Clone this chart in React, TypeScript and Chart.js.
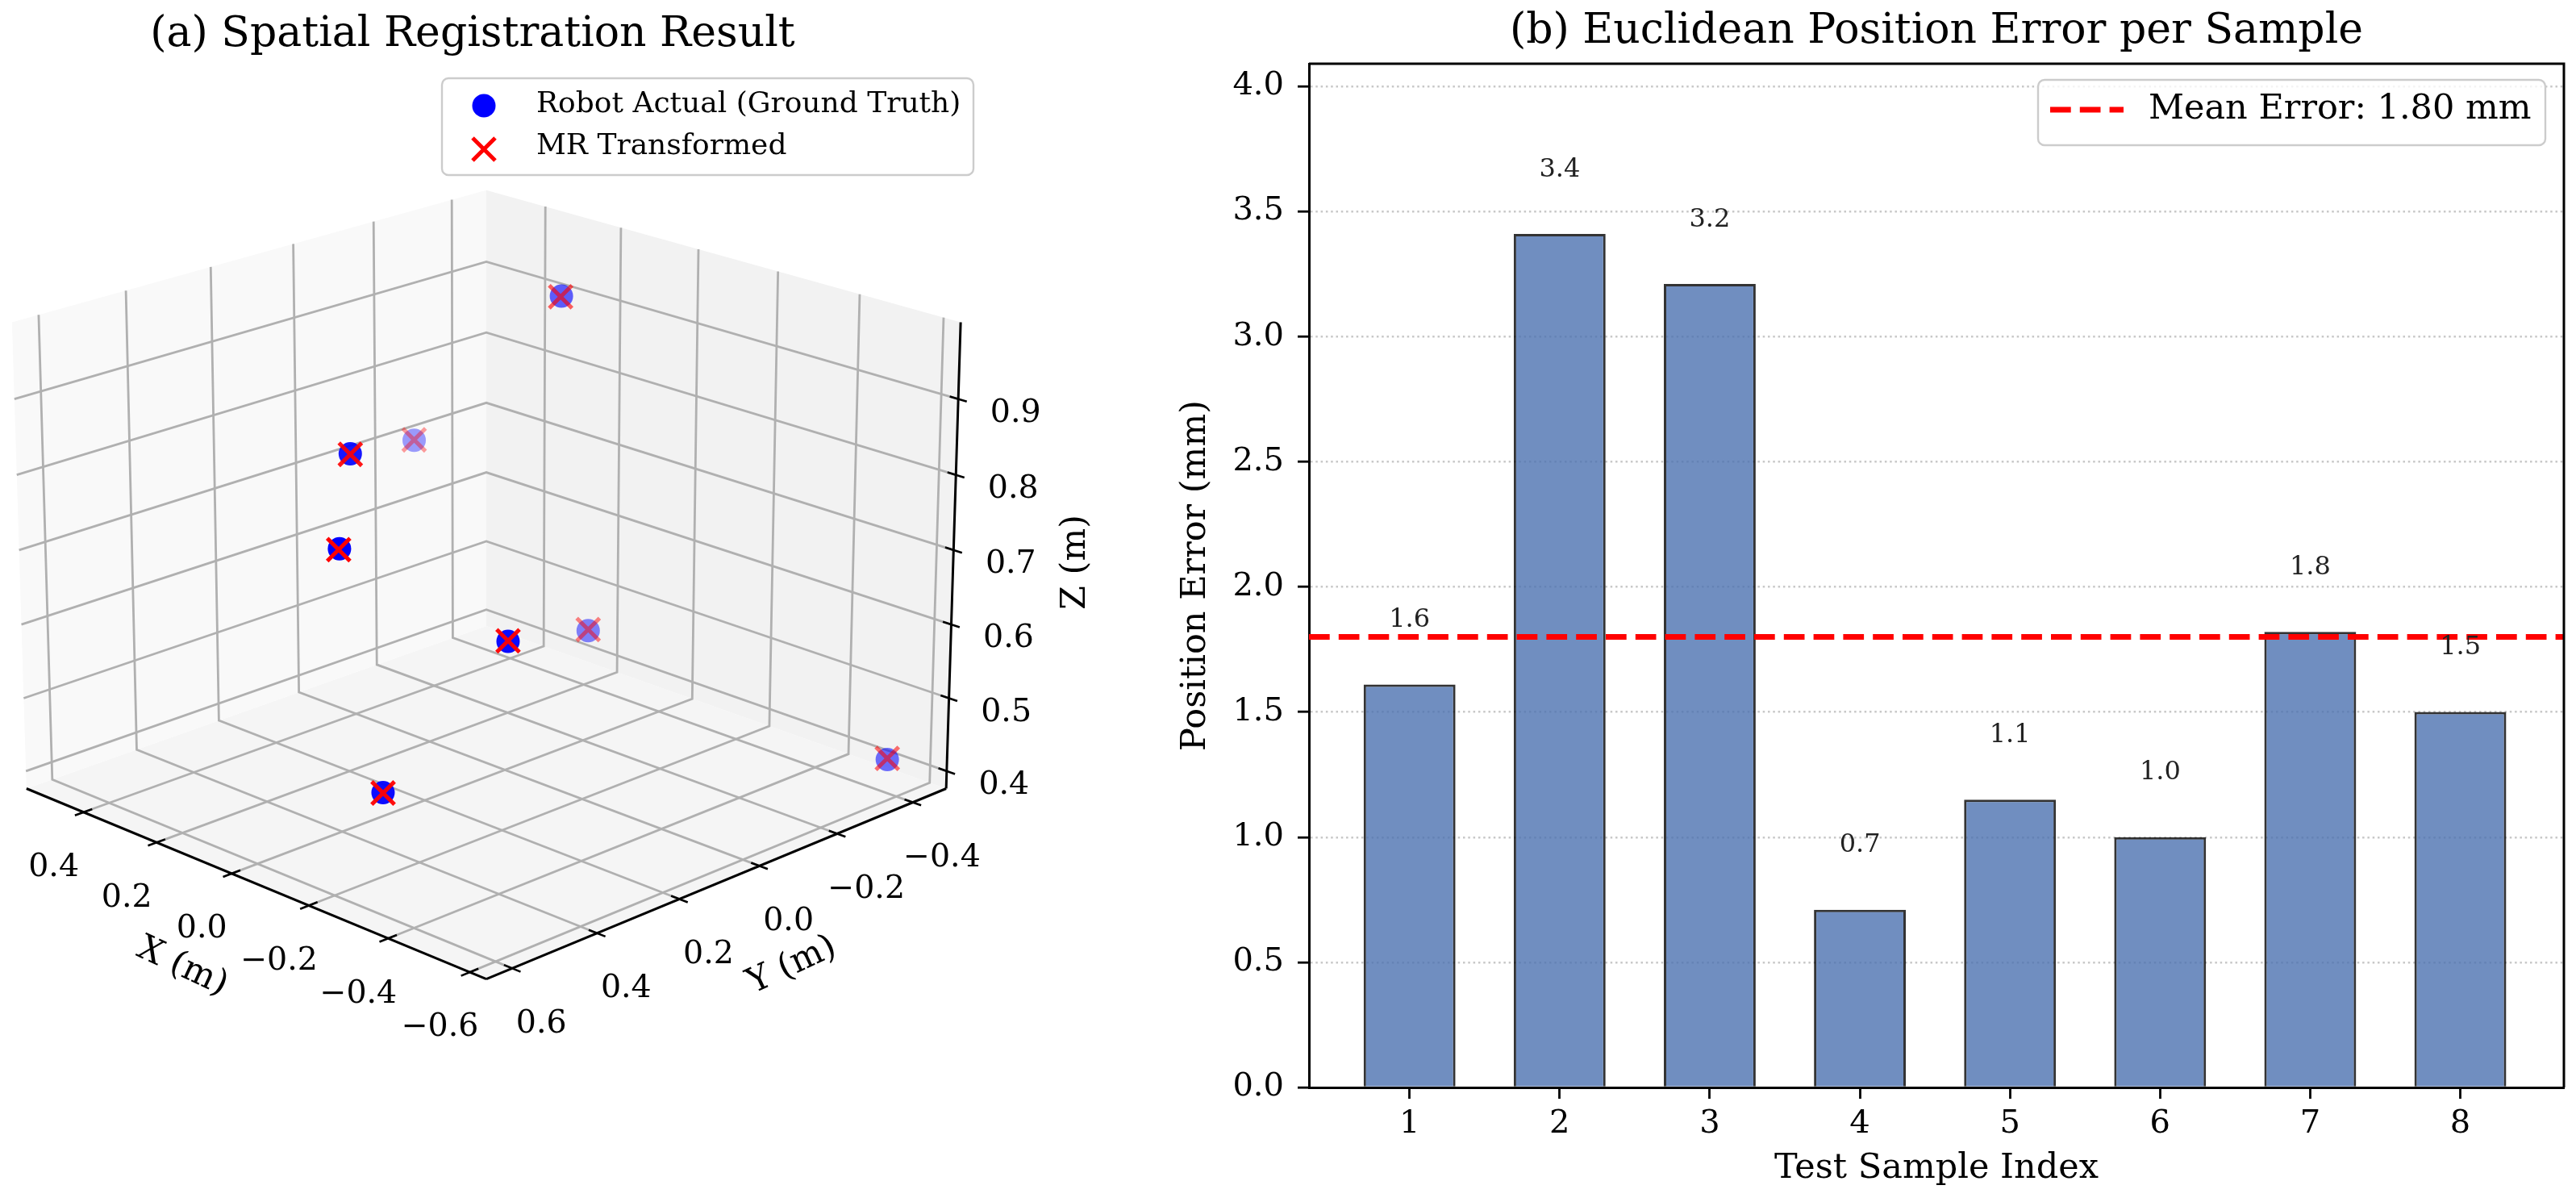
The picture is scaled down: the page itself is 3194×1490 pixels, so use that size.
import React, { useEffect, useRef } from "react";
import { Chart, registerables } from "chart.js";

Chart.register(...registerables);

const FONT = "'DejaVu Serif'";

// ---- Panel (a): registration points (metres) ----
const robotX = [0.06, -0.02, 0.417, -0.16, -0.337, 0.005, -0.518, -0.242];
const robotY = [-0.198, 0.391, -0.167, 0.545, 0.318, -0.217, -0.465, 0.524];
const robotZ = [0.974, 0.878, 0.726, 0.808, 0.678, 0.525, 0.397, 0.504];
const mrX = [0.061, -0.019, 0.416, -0.159, -0.338, 0.006, -0.517, -0.241];
const mrY = [-0.197, 0.39, -0.166, 0.546, 0.319, -0.218, -0.466, 0.523];
const mrZ = [0.973, 0.877, 0.727, 0.807, 0.679, 0.526, 0.398, 0.503];
const xTicks3d = [0.4, 0.2, 0.0, -0.2, -0.4, -0.6];
const yTicks3d = [-0.4, -0.2, 0.0, 0.2, 0.4, 0.6];
const zTicks3d = [0.4, 0.5, 0.6, 0.7, 0.8, 0.9];
const xLim = [-0.64, 0.56];
const yLim = [-0.49, 0.66];
const zLim = [0.376, 1.0];

// ---- Panel (b): position error ----
const sampleIndex = [1, 2, 3, 4, 5, 6, 7, 8];
const positionError = [1.61, 3.41, 3.21, 0.71, 1.15, 1.0, 1.82, 1.5];
const meanError = 1.8;
const yTicksB = [0, 0.5, 1, 1.5, 2, 2.5, 3, 3.5, 4];
const xLimB = [0.33, 8.69];
const yLimB = [0, 4.09];

const ELEV = (20 * Math.PI) / 180;
const S = Math.sin(ELEV);
const C = Math.cos(ELEV);
const DIST = 11.7;
const FOCAL = 579;
const BOX_Z = 0.531;
const CX = 603;
const CY = 693;

const norm = (v: number, lim: number[]) => (v - (lim[0] + lim[1]) / 2) / ((lim[1] - lim[0]) / 2);

function viewOf(x: number, y: number, z: number) {
  const xn = norm(x, xLim);
  const yn = norm(y, yLim);
  const h = (-xn - yn) / 2;
  const r = (-xn + yn) / 2;
  const zt = norm(z, zLim) * BOX_Z;
  return { h, r, zt };
}

function project(x: number, y: number, z: number) {
  const { h, r, zt } = viewOf(x, y, z);
  const depth = zt * S + r * C;
  const Y = zt * C - r * S;
  const w = FOCAL / (1 - depth / DIST);
  return { x: CX + h * w, y: CY - Y * w };
}

function depthAlpha(x: number, y: number, z: number) {
  const { r, zt } = viewOf(x, y, z);
  const depth = zt * S + r * C;
  return Math.max(0.3, Math.min(1, 0.706 + 0.6 * depth));
}

function lineSet(points: number[][], color: string, width: number, order: number) {
  return {
    type: "scatter" as const,
    showLine: true,
    data: points.map((p) => project(p[0], p[1], p[2])),
    borderColor: color,
    borderWidth: width,
    pointRadius: 0,
    fill: false,
    tension: 0,
    order,
    clip: false as const,
  };
}

function paneSet(points: number[][], color: string, order: number) {
  return {
    type: "scatter" as const,
    showLine: true,
    data: points.map((p) => project(p[0], p[1], p[2])),
    borderColor: "rgba(0,0,0,0)",
    borderWidth: 0,
    backgroundColor: color,
    pointRadius: 0,
    fill: "shape",
    tension: 0,
    order,
    clip: false as const,
  };
}

function build3dDatasets() {
  const [x0, x1] = xLim;
  const [y0, y1] = yLim;
  const [z0, z1] = zLim;
  const sets: any[] = [];
  sets.push(paneSet([[x1, y1, z0], [x1, y0, z0], [x1, y0, z1], [x1, y1, z1]], "#f9f9f9", 60));
  sets.push(paneSet([[x1, y0, z0], [x0, y0, z0], [x0, y0, z1], [x1, y0, z1]], "#f2f2f2", 60));
  sets.push(paneSet([[x1, y1, z0], [x1, y0, z0], [x0, y0, z0], [x0, y1, z0]], "#f5f5f5", 60));
  const grid = "#b0b0b0";
  xTicks3d.forEach((t) => sets.push(lineSet([[t, y1, z0], [t, y0, z0], [t, y0, z1]], grid, 2.8, 40)));
  yTicks3d.forEach((t) => sets.push(lineSet([[x0, t, z0], [x1, t, z0], [x1, t, z1]], grid, 2.8, 40)));
  zTicks3d.forEach((t) => sets.push(lineSet([[x1, y1, t], [x1, y0, t], [x0, y0, t]], grid, 2.8, 40)));
  sets.push(lineSet([[x1, y1, z0], [x0, y1, z0]], "#000", 3, 30));
  sets.push(lineSet([[x0, y1, z0], [x0, y0, z0]], "#000", 3, 30));
  sets.push(lineSet([[x0, y0, z0], [x0, y0, z1]], "#000", 3, 30));
  const d = 0.02;
  xTicks3d.forEach((t) => sets.push(lineSet([[t, y1 - d, z0], [t, y1 + d, z0]], "#000", 2.6, 30)));
  yTicks3d.forEach((t) => sets.push(lineSet([[x0 - d, t, z0], [x0 + d, t, z0]], "#000", 2.6, 30)));
  zTicks3d.forEach((t) => sets.push(lineSet([[x0 - d, y0, t], [x0 + d, y0, t]], "#000", 2.6, 30)));
  const blue = robotX.map((_, i) => `rgba(0,0,255,${depthAlpha(robotX[i], robotY[i], robotZ[i])})`);
  const red = mrX.map((_, i) => `rgba(255,0,0,${depthAlpha(mrX[i], mrY[i], mrZ[i])})`);
  sets.push({
    type: "scatter",
    label: "Robot Actual (Ground Truth)",
    data: robotX.map((_, i) => project(robotX[i], robotY[i], robotZ[i])),
    pointBackgroundColor: blue,
    pointBorderWidth: 0,
    pointRadius: 14.5,
    order: 2,
    clip: false,
  });
  sets.push({
    type: "scatter",
    label: "MR Transformed",
    data: mrX.map((_, i) => project(mrX[i], mrY[i], mrZ[i])),
    pointStyle: "crossRot",
    pointBorderColor: red,
    pointBorderWidth: 5,
    pointRadius: 20,
    order: 1,
    clip: false,
  });
  return sets;
}

const fmt = (v: number) => v.toFixed(1).replace("-", "\u2212");

const panel3dText = {
  id: "panel3dText",
  afterDatasetsDraw(chart: any) {
    const ctx = chart.ctx;
    const [x0] = xLim;
    const [y0, y1] = yLim;
    const [z0] = zLim;
    ctx.save();
    ctx.fillStyle = "#000";
    ctx.textAlign = "center";
    ctx.textBaseline = "alphabetic";
    ctx.font = `52px ${FONT}`;
    ctx.fillText("(a) Spatial Registration Result", 586, 57);
    ctx.textBaseline = "middle";
    ctx.font = `39.5px ${FONT}`;
    xTicks3d.forEach((t) => {
      const p = project(t, y1, z0);
      ctx.fillText(fmt(t), p.x - 37, p.y + 69);
    });
    yTicks3d.forEach((t) => {
      const p = project(x0, t, z0);
      ctx.fillText(fmt(t), p.x + 36, p.y + 69);
    });
    zTicks3d.forEach((t) => {
      const p = project(x0, y0, t);
      ctx.fillText(fmt(t), p.x + 71, p.y + 18);
    });
    const label = (text: string, x: number, y: number, rot: number) => {
      ctx.save();
      ctx.translate(x, y);
      ctx.rotate((rot * Math.PI) / 180);
      ctx.fillText(text, 0, 0);
      ctx.restore();
    };
    ctx.font = `43px ${FONT}`;
    label("X (m)", 226, 1199, 25);
    label("Y (m)", 982, 1197, -25);
    label("Z (m)", 1334, 697, -90);

    // legend
    ctx.beginPath();
    ctx.roundRect(548, 97, 659, 120, 8);
    ctx.fillStyle = "rgba(255,255,255,0.8)";
    ctx.fill();
    ctx.strokeStyle = "#cccccc";
    ctx.lineWidth = 2.4;
    ctx.stroke();
    ctx.fillStyle = "#0000ff";
    ctx.beginPath();
    ctx.arc(600, 131, 14.5, 0, Math.PI * 2);
    ctx.fill();
    ctx.strokeStyle = "#ff0000";
    ctx.lineWidth = 5;
    ctx.beginPath();
    ctx.moveTo(586, 171);
    ctx.lineTo(614, 199);
    ctx.moveTo(614, 171);
    ctx.lineTo(586, 199);
    ctx.stroke();
    ctx.fillStyle = "#000";
    ctx.textAlign = "left";
    ctx.textBaseline = "alphabetic";
    ctx.font = `36px ${FONT}`;
    ctx.fillText("Robot Actual (Ground Truth)", 665, 139);
    ctx.fillText("MR Transformed", 665, 191);
    ctx.restore();
  },
};

const panelBText = {
  id: "panelBText",
  afterDatasetsDraw(chart: any) {
    const ctx = chart.ctx;
    const xs = chart.scales.x;
    const ys = chart.scales.y;
    ctx.save();
    ctx.fillStyle = "#222";
    ctx.textAlign = "center";
    ctx.textBaseline = "alphabetic";
    ctx.font = `32px ${FONT}`;
    positionError.forEach((v, i) => {
      ctx.fillText(v.toFixed(1), xs.getPixelForValue(sampleIndex[i]), ys.getPixelForValue(v + 0.23));
    });
    const { left, right, top, bottom } = chart.chartArea;
    ctx.strokeStyle = "#000";
    ctx.lineWidth = 3;
    ctx.beginPath();
    ctx.moveTo(left, top);
    ctx.lineTo(right, top);
    ctx.lineTo(right, bottom);
    ctx.stroke();

    // legend (canvas origin at page x=1400)
    const ox = -1400;
    ctx.beginPath();
    ctx.roundRect(2527 + ox, 99, 629, 81, 8);
    ctx.fillStyle = "rgba(255,255,255,0.8)";
    ctx.fill();
    ctx.strokeStyle = "#cccccc";
    ctx.lineWidth = 2.4;
    ctx.stroke();
    ctx.strokeStyle = "#ff0000";
    ctx.lineWidth = 7;
    ctx.setLineDash([25.7, 11.1]);
    ctx.beginPath();
    ctx.moveTo(2542 + ox, 136);
    ctx.lineTo(2633 + ox, 136);
    ctx.stroke();
    ctx.setLineDash([]);
    ctx.fillStyle = "#000";
    ctx.textAlign = "left";
    ctx.textBaseline = "middle";
    ctx.font = `43px ${FONT}`;
    ctx.fillText(`Mean Error: ${meanError.toFixed(2)} mm`, 2664 + ox, 136);
    ctx.restore();
  },
};

export default function App() {
  const leftRef = useRef<HTMLCanvasElement>(null);
  const rightRef = useRef<HTMLCanvasElement>(null);

  useEffect(() => {
    const left = new Chart(leftRef.current as HTMLCanvasElement, {
      type: "scatter",
      data: { datasets: build3dDatasets() },
      options: {
        animation: false,
        responsive: false,
        devicePixelRatio: 1,
        layout: { padding: 0, autoPadding: false },
        plugins: { legend: { display: false }, tooltip: { enabled: false }, title: { display: false } },
        scales: {
          x: { type: "linear", display: false, min: 0, max: 1400 },
          y: { type: "linear", display: false, min: 0, max: 1490, reverse: true },
        },
      },
      plugins: [panel3dText],
    } as any);

    const right = new Chart(rightRef.current as HTMLCanvasElement, {
      type: "bar",
      data: {
        datasets: [
          {
            type: "line",
            label: `Mean Error: ${meanError.toFixed(2)} mm`,
            data: xLimB.map((x) => ({ x, y: meanError })),
            borderColor: "#ff0000",
            borderWidth: 7,
            borderDash: [25.7, 11.1],
            pointRadius: 0,
            order: 0,
            fill: false,
          },
          {
            type: "bar",
            label: "Position Error",
            data: sampleIndex.map((x, i) => ({ x, y: positionError[i] })),
            backgroundColor: "rgba(76,114,176,0.8)",
            borderColor: "rgba(0,0,0,0.8)",
            borderWidth: 3,
            borderSkipped: "start",
            categoryPercentage: 0.612,
            barPercentage: 1,
            order: 1,
          },
        ],
      },
      options: {
        animation: false,
        responsive: false,
        devicePixelRatio: 1,
        layout: { padding: { left: 0, right: 15, top: 0, bottom: 0 }, autoPadding: false },
        plugins: {
          legend: { display: false },
          tooltip: { enabled: false },
          title: {
            display: true,
            text: "(b) Euclidean Position Error per Sample",
            fullSize: false,
            color: "#000",
            font: { family: FONT, size: 52, weight: "normal", lineHeight: 1.2 },
            padding: { top: 7.8, bottom: 8.8 },
          },
        },
        scales: {
          x: {
            type: "linear",
            offset: false,
            min: xLimB[0],
            max: xLimB[1],
            afterFit: (s: any) => { s.height = 142; },
            afterBuildTicks: (s: any) => { s.ticks = sampleIndex.map((value) => ({ value })); },
            ticks: { color: "#000", font: { family: FONT, size: 40 }, padding: 8, maxRotation: 0, autoSkip: false, callback: (v: any) => String(v) },
            grid: { offset: false, drawOnChartArea: false, drawTicks: true, tickLength: 14, tickColor: "#000", tickWidth: 2.8 },
            border: { color: "#000", width: 3 },
            title: { display: true, text: "Test Sample Index", color: "#000", font: { family: FONT, size: 43 }, padding: { top: 0, bottom: 15.2 } },
          },
          y: {
            type: "linear",
            min: yLimB[0],
            max: yLimB[1],
            afterFit: (s: any) => { s.width = 223; },
            afterBuildTicks: (s: any) => { s.ticks = yTicksB.map((value) => ({ value })); },
            ticks: { color: "#000", font: { family: FONT, size: 40 }, padding: 17, autoSkip: false, callback: (v: any) => Number(v).toFixed(1) },
            grid: { color: "rgba(176,176,176,0.7)", lineWidth: 2.4, drawTicks: true, tickLength: 14, tickColor: "#000", tickWidth: 2.8 },
            border: { color: "#000", width: 3, dash: [2.5, 3.8] },
            title: { display: true, text: "Position Error (mm)", color: "#000", font: { family: FONT, size: 43 }, padding: { top: 57, bottom: 0 } },
          },
        },
      },
      plugins: [panelBText],
    } as any);

    return () => {
      left.destroy();
      right.destroy();
    };
  }, []);

  const canvasStyle = { position: "absolute" as const, top: 0, height: 1490, filter: "blur(0.5px)" };
  return (
    <div style={{ position: "absolute", left: 0, top: 0, width: 3194, height: 1490, background: "#fff", overflow: "hidden" }}>
      <canvas ref={leftRef} width={1400} height={1490} style={{ ...canvasStyle, left: 0, width: 1400 }} />
      <canvas ref={rightRef} width={1794} height={1490} style={{ ...canvasStyle, left: 1400, width: 1794 }} />
    </div>
  );
}
